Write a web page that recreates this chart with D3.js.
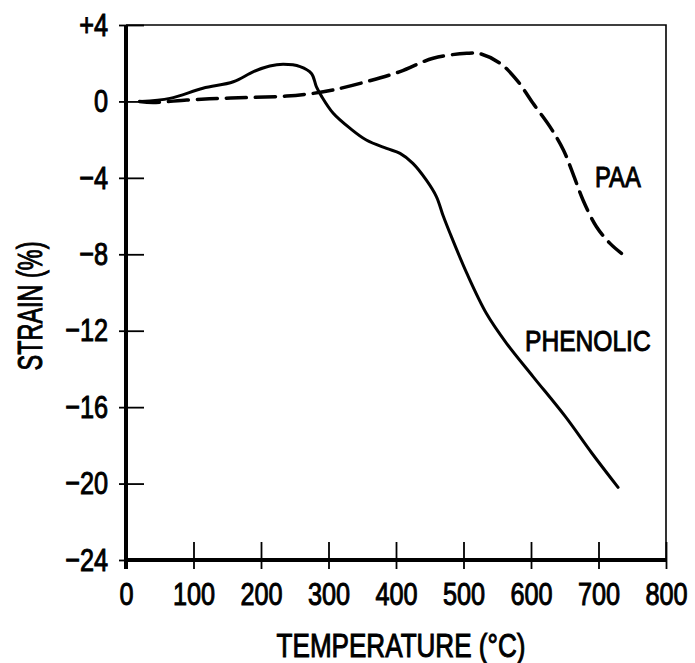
<!DOCTYPE html>
<html>
<head>
  <meta charset="utf-8">
  <title>Strain vs temperature</title>
  <script src="https://d3js.org/d3.v7.min.js"></script>
  <style>
    body { margin: 0; background: #fff; }
    svg text {
      font-family: "Liberation Sans", Arial, sans-serif;
      fill: #000;
      stroke: #000;
      stroke-width: 1px;
    }
    .line { fill: none; stroke: #000; stroke-linejoin: round; stroke-linecap: round; }
  </style>
</head>
<body>
  <svg width="695" height="663"></svg>

  <script>
    // Values
    const phenolicTemp = [22, 65, 114, 159, 189, 213, 233, 258, 275, 282, 290, 307, 332, 356, 386, 406, 425, 445, 460, 470, 480, 505, 534, 564, 603, 651, 690, 729];
    const phenolicStrain = [0, 0.16, 0.69, 1.03, 1.56, 1.85, 1.94, 1.82, 1.45, 0.77, 0.25, -0.62, -1.41, -2.02, -2.46, -2.72, -3.24, -4.12, -4.99, -6.0, -6.9, -9.0, -11.1, -12.67, -14.4, -16.5, -18.4, -20.2];

    const paaTemp = [20, 40, 90, 139, 188, 238, 277, 307, 356, 406, 455, 505, 524, 554, 579, 603, 628, 648, 662, 677, 697, 717, 734];
    const paaStrain = [0, -0.05, 0.07, 0.16, 0.21, 0.28, 0.42, 0.6, 1.03, 1.56, 2.26, 2.52, 2.5, 2.0, 1.12, -0.1, -1.32, -2.54, -3.76, -5.16, -6.56, -7.43, -7.95];

    const xTicks = [0, 100, 200, 300, 400, 500, 600, 700, 800];
    const yTicks = [4, 0, -4, -8, -12, -16, -20, -24];

    const svg = d3.select("svg");
    const mLeft = 126, mRight = 666, mTop = 25, mBottom = 560;
    const squeeze = 0.79; // the original type is a condensed face

    const x = d3.scaleLinear().domain([0, 800]).range([mLeft, mRight]);
    const y = d3.scaleLinear().domain([-24, 4]).range([mBottom, mTop]);

    // thin frame on top and right
    svg.append("path")
      .attr("d", `M${mLeft},${mTop}H${mRight}V${mBottom}`)
      .attr("fill", "none").attr("stroke", "#000").attr("stroke-width", 1.6);

    // x axis
    const gx = svg.append("g")
      .attr("transform", `translate(0,${mBottom})`)
      .call(d3.axisBottom(x).tickValues(xTicks).tickSize(0).tickPadding(22).tickFormat(d3.format("d")));
    gx.select(".domain").remove();
    gx.selectAll(".tick line").attr("y1", -18).attr("y2", 9).attr("stroke-width", 1.8);
    gx.selectAll(".tick text")
      .style("font-size", "32px")
      .attr("transform", `scale(${squeeze},1)`);
    svg.append("line").attr("x1", mLeft).attr("x2", mRight).attr("y1", mBottom).attr("y2", mBottom)
      .attr("stroke", "#000").attr("stroke-width", 4);

    // y axis
    const gy = svg.append("g")
      .attr("transform", `translate(${mLeft},0)`)
      .call(d3.axisLeft(y).tickValues(yTicks).tickSize(0).tickPadding(18)
        .tickFormat(d => d > 0 ? "+" + d : d < 0 ? "\u2212" + Math.abs(d) : "0"));
    gy.select(".domain").remove();
    gy.selectAll(".tick line").attr("x1", -7).attr("x2", 18).attr("stroke-width", 1.8);
    gy.selectAll(".tick text")
      .style("font-size", "32px")
      .attr("x", -18 / squeeze)
      .attr("transform", `scale(${squeeze},1)`);
    svg.append("line").attr("x1", mLeft).attr("x2", mLeft).attr("y1", mTop).attr("y2", mBottom + 9)
      .attr("stroke", "#000").attr("stroke-width", 4);

    // axis titles
    svg.append("text")
      .attr("transform", `translate(401,657) scale(${squeeze},1)`)
      .attr("text-anchor", "middle")
      .style("font-size", "33px")
      .text("TEMPERATURE (\u00B0C)");

    svg.append("text")
      .attr("transform", "translate(42,306) rotate(-90) scale(0.67,1)")
      .attr("text-anchor", "middle")
      .style("font-size", "35px")
      .text("STRAIN (%)");

    // curves
    const line = d3.line()
      .x(d => x(d[0]))
      .y(d => y(d[1]))
      .curve(d3.curveCatmullRom.alpha(0.5));

    svg.append("path")
      .datum(d3.zip(phenolicTemp, phenolicStrain))
      .attr("class", "line")
      .attr("stroke-width", 3)
      .attr("d", line);

    svg.append("path")
      .datum(d3.zip(paaTemp, paaStrain))
      .attr("class", "line")
      .attr("stroke-width", 3.5)
      .attr("stroke-linecap", "butt")
      .attr("stroke-dasharray", "20,9")
      .attr("d", line);

    // series labels
    svg.append("text")
      .attr("transform", "translate(595,187) scale(0.82,1)")
      .style("font-size", "29px")
      .text("PAA");

    svg.append("text")
      .attr("transform", "translate(525,351) scale(0.82,1)")
      .style("font-size", "30px")
      .text("PHENOLIC");
  </script>
</body>
</html>
